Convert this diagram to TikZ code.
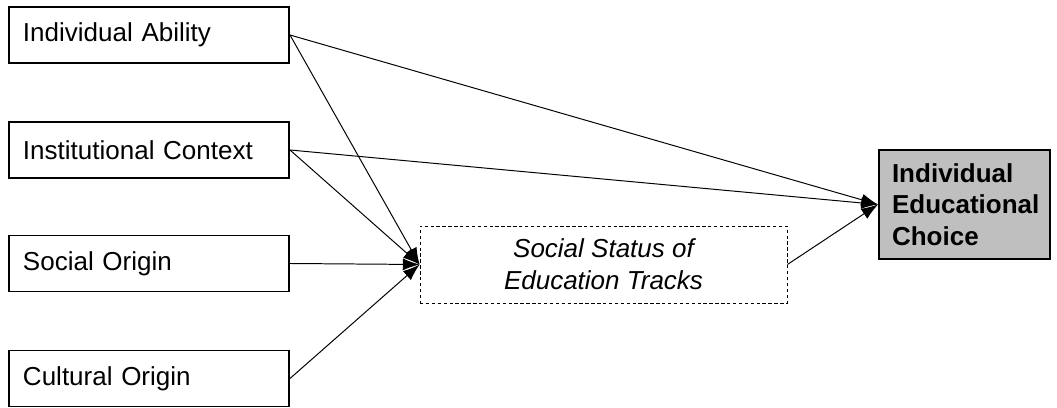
\documentclass[tikz,border=0pt]{standalone}
\usepackage{fontspec}
\setmainfont{Liberation Sans}
\usetikzlibrary{arrows.meta}

\begin{document}
\begin{tikzpicture}[
	every node/.style={font=\fontsize{18.5}{22.5}\selectfont},
	factor/.style={draw, line width=1.4pt, minimum height=1.4cm, text width=6.3cm, inner xsep=0.35cm, align=left},
	effect/.style={line width=0.7pt, -{Latex[length=0.42cm, width=0.3cm]}}
]
	\definecolor{choicecol}{rgb}{0.75,0.75,0.75}
	\useasboundingbox (0, 0) rectangle (26.425, 10.2);
	\node[factor] (ability) at (3.725, 9.325) {Individual Ability};
	\node[factor] (context) at (3.725, 6.45) {Institutional Context};
	\node[factor] (social) at (3.725, 3.6125) {Social Origin};
	\node[factor] (cultural) at (3.725, 0.7375) {Cultural Origin};
	\node[draw, line width=0.6pt, dash pattern=on 2.4pt off 1.8pt, minimum width=9.175cm, minimum height=1.925cm, align=center, font=\fontsize{18.5}{22.5}\selectfont\itshape] (status) at (15.0875, 3.5875) {Social Status of\\Education Tracks};
	\node[draw, line width=1.4pt, fill=choicecol, minimum height=2.725cm, text width=3.625cm, inner xsep=0.325cm, align=left, font=\fontsize{18.5}{22.5}\selectfont\bfseries] (choice) at (24.1125, 5.0875) {Individual\\Educational\\Choice};
	\draw[effect] (ability.east) -- (choice.west);
	\draw[effect] (context.east) -- (choice.west);
	\draw[effect] (status.east) -- (choice.west);
	\foreach \f in {ability, context, social, cultural} {
		\draw[effect] (\f.east) -- (status.west);
	}
\end{tikzpicture}
\end{document}
